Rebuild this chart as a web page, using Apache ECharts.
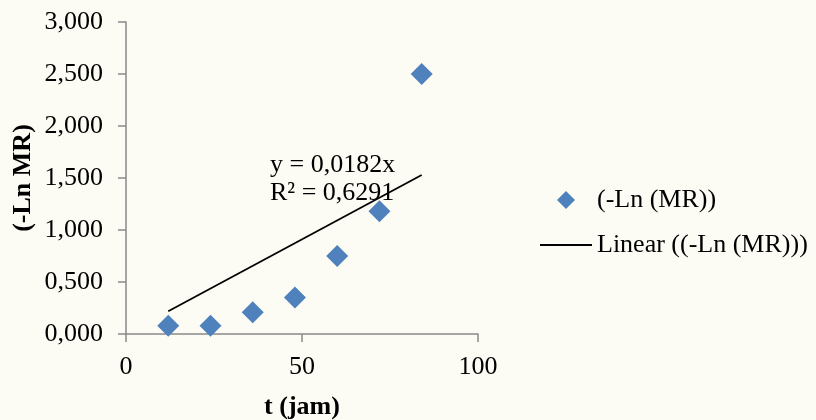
<!DOCTYPE html>
<html>
<head>
<meta charset="utf-8">
<script src="https://cdn.jsdelivr.net/npm/echarts@6/dist/echarts.min.js"></script>
<style>
html,body{margin:0;padding:0;background:#fcfcf5;}
#c{width:816px;height:420px;}
</style>
</head>
<body>
<div id="c"></div>
<script>
// Data
var tValues = [12, 24, 36, 48, 60, 72, 84];
var lnMR = [0.08, 0.08, 0.21, 0.35, 0.75, 1.18, 2.50];
var trendX = [12, 84];
var trendY = [0.218, 1.529];
var seriesNames = ['(-Ln (MR))', 'Linear ((-Ln (MR)))'];
var trendLabel = ['y = 0,0182x', 'R\u00B2 = 0,6291'];

var FONT = '"Liberation Serif", "Times New Roman", serif';
var axisColor = '#898989';

var chart = echarts.init(document.getElementById('c'));
var scatterData = tValues.map(function (t, i) { return [t, lnMR[i]]; });
var trendData = trendX.map(function (t, i) { return [t, trendY[i]]; });

chart.setOption({
  backgroundColor: '#fcfcf5',
  animation: false,
  grid: { left: 126, right: 338, top: 22, bottom: 86, containLabel: false, outerBoundsMode: 'none' },
  xAxis: {
    type: 'value', min: 0, max: 100, interval: 50,
    name: 't (jam)', nameLocation: 'middle', nameGap: 60,
    nameTextStyle: { fontFamily: FONT, fontSize: 26, fontWeight: 'bold', color: '#000' },
    axisLine: { show: true, onZero: false, lineStyle: { color: axisColor, width: 1.5 } },
    axisTick: { show: true, length: 8, lineStyle: { color: axisColor, width: 1.5 } },
    axisLabel: { fontFamily: FONT, fontSize: 26, color: '#000', margin: 20 },
    splitLine: { show: false }
  },
  yAxis: {
    type: 'value', min: 0, max: 3, interval: 0.5,
    name: '(-Ln MR)', nameLocation: 'middle', nameGap: 90, nameRotate: 90,
    nameTextStyle: { fontFamily: FONT, fontSize: 26, fontWeight: 'bold', color: '#000' },
    axisLine: { show: true, lineStyle: { color: axisColor, width: 1.5 } },
    axisTick: { show: true, length: 8, lineStyle: { color: axisColor, width: 1.5 } },
    axisLabel: {
      fontFamily: FONT, fontSize: 26, color: '#000', margin: 23,
      formatter: function (v) { return v.toFixed(3).replace('.', ','); }
    },
    splitLine: { show: false }
  },
  legend: [
    {
      data: [{ name: seriesNames[0], icon: 'diamond' }],
      left: 552, top: 182, orient: 'vertical',
      itemWidth: 18, itemHeight: 18,
      textStyle: { fontFamily: FONT, fontSize: 26, color: '#000', padding: [0, 0, 0, 17] }
    },
    {
      data: [{ name: seriesNames[1], icon: 'rect' }],
      left: 535, top: 227, orient: 'vertical',
      itemWidth: 52, itemHeight: 2,
      itemStyle: { color: '#000' },
      textStyle: { fontFamily: FONT, fontSize: 26, color: '#000' }
    }
  ],
  series: [
    {
      name: seriesNames[0], type: 'scatter', data: scatterData,
      symbol: 'diamond', symbolSize: 22,
      itemStyle: { color: '#4f81bd', opacity: 1 }, z: 3
    },
    {
      name: seriesNames[1], type: 'line', data: trendData,
      symbol: 'none', showSymbol: false,
      lineStyle: { color: '#000', width: 1.8 },
      itemStyle: { color: '#000' }, z: 2
    }
  ],
  graphic: [
    {
      type: 'text', left: 270, top: 151, z: 10,
      style: {
        text: trendLabel.join('\n'), fontFamily: FONT, fontSize: 26,
        lineHeight: 28, fill: '#000'
      }
    }
  ]
});
</script>
</body>
</html>
